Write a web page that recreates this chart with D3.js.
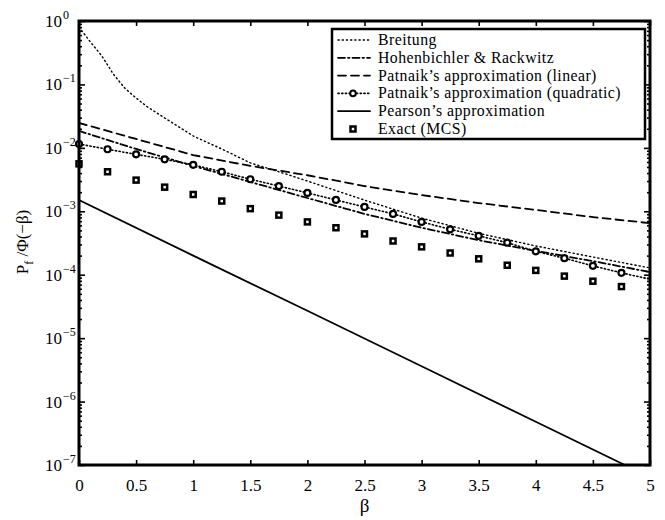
<!DOCTYPE html>
<html>
  <head>
    <meta charset="utf-8">
    <title>Failure probability ratio</title>
    <script src="https://d3js.org/d3.v7.min.js"></script>
    <style>
      body { margin: 0; background: #fff; }
      svg, svg text { font-family: "Liberation Serif", "Times New Roman", serif; }
    </style>
  </head>
  <body>
    <svg id="chart" width="665" height="520"></svg>
    <script>
      // data
      betaGrid = [0, 0.5, 1, 1.5, 2, 2.5, 3, 3.5, 4, 4.5, 5];
      linearVals = [0.0247, 0.0138, 7.7e-3, 5.2e-3, 3.7e-3, 2.5e-3, 1.8e-3, 1.35e-3, 1.05e-3, 8.1e-4, 6.5e-4];
      hrVals = [0.0185, 9.6e-3, 5.2e-3, 2.9e-3, 1.62e-3, 9.1e-4, 5.5e-4, 3.5e-4, 2.37e-4, 1.64e-4, 1.1e-4];
      breitungBeta = [0, 0.1, 0.2, 0.3, 0.4, 0.5, 0.6, 0.75, 1, 1.25, 1.5, 1.75, 2, 2.5, 3, 3.5, 4, 4.5, 5];
      breitungVals = [0.80, 0.467, 0.281, 0.146, 0.0879, 0.0611, 0.0441, 0.0296, 0.0154, 9.6e-3, 5.8e-3, 4.2e-3, 3.0e-3, 1.5e-3, 7.8e-4, 4.5e-4, 2.84e-4, 1.9e-4, 1.28e-4];
      quadBeta = [0, 0.25, 0.5, 0.75, 1, 1.25, 1.5, 1.75, 2, 2.25, 2.5, 2.75, 3, 3.25, 3.5, 3.75, 4, 4.25, 4.5, 4.75, 5];
      quadVals = [0.0115, 9.5e-3, 7.9e-3, 6.6e-3, 5.4e-3, 4.2e-3, 3.2e-3, 2.5e-3, 1.95e-3, 1.51e-3, 1.17e-3, 9.1e-4, 6.8e-4, 5.2e-4, 4.1e-4, 3.2e-4, 2.34e-4, 1.82e-4, 1.38e-4, 1.07e-4, 8.5e-5];
      mcsBeta = [0, 0.25, 0.5, 0.75, 1, 1.25, 1.5, 1.75, 2, 2.25, 2.5, 2.75, 3, 3.25, 3.5, 3.75, 4, 4.25, 4.5, 4.75];
      mcsVals = [5.6e-3, 4.2e-3, 3.1e-3, 2.4e-3, 1.84e-3, 1.45e-3, 1.1e-3, 8.7e-4, 6.8e-4, 5.5e-4, 4.4e-4, 3.4e-4, 2.75e-4, 2.2e-4, 1.78e-4, 1.41e-4, 1.17e-4, 9.5e-5, 7.9e-5, 6.5e-5];
      pearsonBeta = [0, 1, 2, 3, 4, 4.78];
      pearsonVals = [1.5e-3, 2.0e-4, 2.7e-5, 3.6e-6, 4.8e-7, 1.0e-7];
      xTicks = [0, 0.5, 1, 1.5, 2, 2.5, 3, 3.5, 4, 4.5, 5];
      xTickLabels = ["0", "0.5", "1", "1.5", "2", "2.5", "3", "3.5", "4", "4.5", "5"];
      yExponents = [0, -1, -2, -3, -4, -5, -6, -7];
      legendLabels = ["Breitung", "Hohenbichler & Rackwitz", "Patnaik\u2019s approximation (linear)",
        "Patnaik\u2019s approximation (quadratic)", "Pearson\u2019s approximation", "Exact (MCS)"];

      // layout
      margin = { top: 21, right: 15, bottom: 55, left: 79 };
      width = 665;
      height = 520;
      chart = d3.select("#chart");

      x = d3.scaleLinear().domain([0, 5]).range([margin.left, width - margin.right]);
      y = d3.scaleLog().domain([1e-7, 1]).range([height - margin.bottom, margin.top]);

      chart.append("defs").append("clipPath").attr("id", "plotClip")
        .append("rect")
          .attr("x", x(0)).attr("y", y(1))
          .attr("width", x(5) - x(0)).attr("height", y(1e-7) - y(1));

      plot = chart.append("g").attr("clip-path", "url(#plotClip)");

      line = d3.line()
        .x(function(d) { return x(d[0]); })
        .y(function(d) { return y(d[1]); });

      function pairs(xs, ys) { return xs.map(function(b, i) { return [b, ys[i]]; }); }

      styles = {
        breitung: { dash: "1.2,3", width: 1.4 },
        hr: { dash: "7,3,1.5,3", width: 1.8 },
        linear: { dash: "8,5", width: 1.8 },
        quad: { dash: "1.2,2.5", width: 1.6 },
        pearson: { dash: null, width: 1.8 }
      };

      function drawLine(data, s) {
        plot.append("path")
          .datum(data)
          .attr("d", line)
          .attr("fill", "none")
          .attr("stroke", "#000")
          .attr("stroke-width", s.width)
          .attr("stroke-linecap", "round")
          .attr("stroke-dasharray", s.dash);
      }

      drawLine(pairs(breitungBeta, breitungVals), styles.breitung);
      drawLine(pairs(betaGrid, hrVals), styles.hr);
      drawLine(pairs(betaGrid, linearVals), styles.linear);
      drawLine(pairs(quadBeta, quadVals), styles.quad);
      drawLine(pairs(pearsonBeta, pearsonVals), styles.pearson);

      // markers
      chart.append("g").selectAll("circle")
        .data(pairs(quadBeta.slice(0, 20), quadVals.slice(0, 20)))
        .enter().append("circle")
          .attr("cx", function(d) { return x(d[0]); })
          .attr("cy", function(d) { return y(d[1]); })
          .attr("r", 3)
          .attr("fill", "#fff")
          .attr("stroke", "#000")
          .attr("stroke-width", 2.2);
      chart.append("g").selectAll("rect")
        .data(pairs(mcsBeta, mcsVals))
        .enter().append("rect")
          .attr("x", function(d) { return x(d[0]) - 2.5; })
          .attr("y", function(d) { return y(d[1]) - 2.5; })
          .attr("width", 5)
          .attr("height", 5)
          .attr("fill", "#fff")
          .attr("stroke", "#000")
          .attr("stroke-width", 2.5);

      // axes
      axisGroup = chart.append("g");
      xAxis = d3.axisBottom(x).tickValues(xTicks)
        .tickFormat(function(d, i) { return xTickLabels[i]; })
        .tickSizeInner(-5).tickSizeOuter(0).tickPadding(14);
      axisGroup.append("g")
        .attr("transform", "translate(0," + y(1e-7) + ")")
        .call(xAxis);
      axisGroup.append("g")
        .attr("transform", "translate(0," + y(1) + ")")
        .call(d3.axisTop(x).tickValues(xTicks).tickFormat("").tickSizeInner(-5).tickSizeOuter(0));

      minorTicks = [];
      yExponents.slice(1).forEach(function(e) {
        for (var k = 2; k <= 9; k++) minorTicks.push(k * Math.pow(10, e));
      });
      majorTicks = yExponents.map(function(e) { return Math.pow(10, e); });

      [[d3.axisLeft, x(0)], [d3.axisRight, x(5)]].forEach(function(a) {
        axisGroup.append("g")
          .attr("transform", "translate(" + a[1] + ",0)")
          .call(a[0](y).tickValues(minorTicks).tickFormat("").tickSizeInner(-3).tickSizeOuter(0));
        axisGroup.append("g")
          .attr("transform", "translate(" + a[1] + ",0)")
          .call(a[0](y).tickValues(majorTicks).tickFormat("").tickSizeInner(-6).tickSizeOuter(0));
      });

      axisGroup.selectAll("g").attr("font-family", null).attr("font-size", 17);
      axisGroup.selectAll(".domain").remove();
      axisGroup.selectAll(".tick line").attr("stroke", "#000").attr("stroke-width", 1.6);
      axisGroup.selectAll(".tick text").attr("fill", "#000");

      // y tick labels with superscripts
      yLabels = chart.append("g").attr("font-size", 17);
      yExponents.forEach(function(e) {
        yLabels.append("text")
          .attr("x", x(0) - 17)
          .attr("y", y(Math.pow(10, e)) + 6)
          .attr("text-anchor", "end")
          .text("10");
        yLabels.append("text")
          .attr("x", x(0) - 16)
          .attr("y", y(Math.pow(10, e)) - 2)
          .attr("font-size", 12)
          .text(e === 0 ? "0" : "\u2212" + (-e));
      });

      // frame
      chart.append("rect")
        .attr("x", x(0)).attr("y", y(1))
        .attr("width", x(5) - x(0)).attr("height", y(1e-7) - y(1))
        .attr("fill", "none")
        .attr("stroke", "#000")
        .attr("stroke-width", 3);

      // axis titles
      chart.append("text")
        .attr("x", (x(0) + x(5)) / 2)
        .attr("y", 512)
        .attr("text-anchor", "middle")
        .attr("font-size", 19)
        .text("\u03b2");
      yTitle = chart.append("text")
        .attr("transform", "translate(28,242) rotate(-90)")
        .attr("text-anchor", "middle")
        .attr("font-size", 17);
      yTitle.append("tspan").text("P");
      yTitle.append("tspan").attr("font-size", 12).attr("dy", 5).text("f");
      yTitle.append("tspan").attr("dy", -5).text(" /\u03a6(\u2212\u03b2)");

      // legend
      rowGap = 17.8;
      legend = chart.append("g");
      legend.append("rect")
        .attr("x", 332).attr("y", 29)
        .attr("width", 313).attr("height", 110)
        .attr("fill", "#fff")
        .attr("stroke", "#000")
        .attr("stroke-width", 2.5);
      legendStyles = [styles.breitung, styles.hr, styles.linear, styles.quad, styles.pearson, null];
      legendLabels.forEach(function(label, i) {
        var ly = 40 + i * rowGap;
        var s = legendStyles[i];
        if (s) {
          legend.append("line")
            .attr("x1", 338).attr("x2", 370)
            .attr("y1", ly).attr("y2", ly)
            .attr("stroke", "#000")
            .attr("stroke-width", s.width)
            .attr("stroke-linecap", "round")
            .attr("stroke-dasharray", s.dash);
        }
        if (i === 3) {
          legend.append("circle").attr("cx", 353).attr("cy", ly).attr("r", 2.8)
            .attr("fill", "#fff").attr("stroke", "#000").attr("stroke-width", 2);
        }
        if (i === 5) {
          legend.append("rect").attr("x", 350.5).attr("y", ly - 2.5).attr("width", 5).attr("height", 5)
            .attr("fill", "#fff").attr("stroke", "#000").attr("stroke-width", 2.5);
        }
        legend.append("text")
          .attr("x", 378).attr("y", ly + 5)
          .attr("font-size", 15.8)
          .attr("letter-spacing", 0.45)
          .text(label);
      });
    </script>
  </body>
</html>
